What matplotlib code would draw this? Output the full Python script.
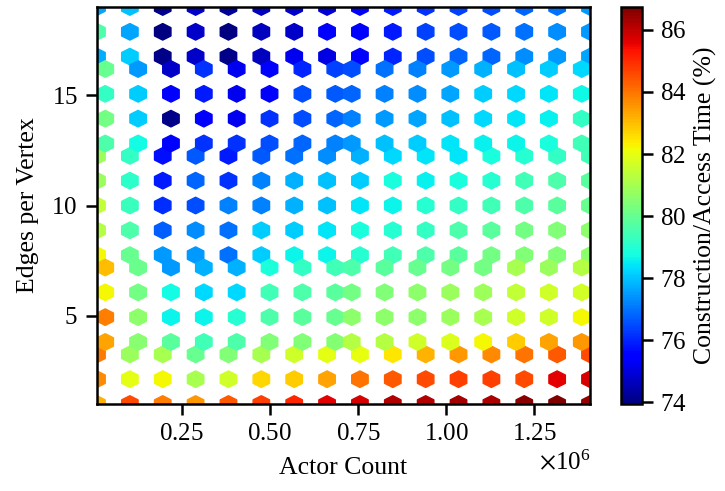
import numpy as np
import matplotlib
matplotlib.use("Agg")
import matplotlib.pyplot as plt
from matplotlib.ticker import MultipleLocator

# actor counts (x) and edges per vertex (y)
actor_counts = [10000, 103200, 196400, 289600, 382800, 476000, 569200, 662400,
                755600, 848800, 942000, 1035200, 1128400, 1221600, 1314800, 1408000]
edges_per_vertex = list(range(1, 20))

# construction/access time (%) - one row per edges value, one entry per actor count
access_time = [
    [83.17, 84.55, 83.86, 83.51, 84.38, 84.72, 85.07, 85.61, 85.76, 86.18, 86.18, 86.32, 86.23, 86.60, 86.74, 86.46],
    [83.69, 81.99, 82.19, 81.00, 81.59, 82.65, 82.82, 83.34, 84.03, 84.38, 84.55, 84.72, 84.72, 84.55, 85.61, 85.76],
    [83.90, 80.80, 81.00, 80.00, 80.40, 81.00, 81.59, 81.99, 82.00, 82.48, 83.17, 83.51, 83.69, 84.03, 84.38, 84.55],
    [83.34, 80.50, 79.81, 79.41, 79.61, 80.40, 80.40, 80.45, 81.20, 81.20, 81.59, 81.79, 82.19, 82.82, 83.34, 83.51],
    [83.86, 80.60, 78.62, 78.62, 79.02, 79.61, 79.81, 80.01, 80.60, 80.60, 80.60, 80.80, 81.00, 81.59, 81.59, 82.19],
    [82.19, 80.21, 78.70, 78.26, 78.26, 79.41, 79.61, 79.81, 80.21, 80.40, 80.60, 80.80, 80.85, 81.40, 81.59, 81.65],
    [83.00, 80.05, 77.46, 77.78, 77.78, 78.85, 79.21, 79.41, 79.61, 79.81, 80.01, 80.21, 80.21, 81.00, 80.80, 81.20],
    [82.19, 80.01, 77.46, 77.46, 76.98, 78.10, 78.62, 78.62, 79.02, 79.41, 79.61, 79.81, 80.21, 80.40, 80.40, 80.60],
    [81.20, 79.61, 76.74, 77.30, 76.98, 78.10, 78.10, 78.42, 78.82, 79.02, 79.21, 79.61, 79.81, 80.21, 80.40, 80.60],
    [81.40, 79.30, 76.10, 76.50, 77.14, 77.14, 77.78, 77.94, 78.42, 78.62, 79.02, 79.21, 79.41, 79.61, 79.81, 80.01],
    [80.80, 79.10, 75.86, 76.82, 76.18, 77.14, 77.78, 77.94, 78.10, 78.82, 78.58, 78.82, 79.02, 79.41, 79.61, 79.81],
    [80.80, 79.21, 75.70, 76.66, 75.86, 76.66, 76.98, 77.30, 77.78, 78.26, 78.42, 78.42, 78.82, 79.02, 79.21, 79.41],
    [79.61, 78.70, 75.41, 76.18, 76.18, 76.50, 76.82, 77.14, 77.46, 77.94, 78.10, 78.42, 78.58, 78.62, 78.82, 79.41],
    [80.21, 78.10, 74.08, 75.41, 75.21, 76.18, 76.50, 76.82, 77.14, 77.46, 77.62, 77.94, 78.26, 78.42, 78.58, 79.21],
    [79.21, 78.10, 75.41, 75.86, 75.21, 75.41, 76.50, 76.66, 76.82, 77.14, 77.30, 77.62, 78.10, 78.26, 78.42, 78.68],
    [80.01, 77.46, 74.78, 76.18, 75.21, 75.41, 76.02, 76.34, 76.50, 76.98, 77.14, 77.46, 77.78, 77.94, 78.10, 78.26],
    [77.70, 78.10, 74.08, 74.78, 74.08, 74.64, 75.21, 75.07, 75.41, 76.02, 76.50, 76.82, 76.82, 77.30, 77.46, 77.62],
    [79.61, 77.62, 73.94, 74.78, 73.96, 74.64, 74.78, 75.41, 75.41, 75.86, 76.34, 76.50, 76.66, 76.98, 77.30, 77.46],
    [77.62, 77.94, 74.08, 74.78, 74.22, 74.64, 74.78, 74.93, 75.41, 75.86, 76.18, 76.34, 76.50, 76.82, 76.98, 77.46],
]

plt.rcParams['font.family'] = ['Liberation Serif', 'DejaVu Serif']
plt.rcParams['mathtext.fontset'] = 'stix'
plt.rcParams['axes.formatter.use_mathtext'] = True
plt.rcParams['font.size'] = 18

xx, yy = np.meshgrid(actor_counts, edges_per_vertex)
cc = np.array(access_time)

fig = plt.figure(figsize=(7.25, 4.91), dpi=100)
ax = fig.add_axes([97 / 725, 87 / 491, 493 / 725, 397 / 491])
cax = fig.add_axes([621 / 725, 87 / 491, 21 / 725, 397 / 491])

hb = ax.hexbin(xx.ravel(), yy.ravel(), C=cc.ravel(), gridsize=(30, 16),
               cmap='jet', reduce_C_function=np.mean)

# hexbin grid spans exactly the data range
ax.set_xlim(min(actor_counts), max(actor_counts))
ax.set_ylim(min(edges_per_vertex), max(edges_per_vertex))
ax.xaxis.set_major_locator(MultipleLocator(250000))
ax.set_yticks([5, 10, 15])

ax.set_xlabel("Actor Count", fontsize=18.5, labelpad=8)
ax.set_ylabel("Edges per Vertex", fontsize=18.5, labelpad=9)
for s in ax.spines.values():
    s.set_linewidth(1.8)
ax.tick_params(width=1.8, length=8, pad=6)

cb = fig.colorbar(hb, cax=cax)
cb.set_label("Construction/Access Time (%)", fontsize=18.5, labelpad=5)
cb.outline.set_linewidth(1.8)
cax.tick_params(width=1.8, length=8, pad=5)

fig.savefig("out.png", dpi=100)
